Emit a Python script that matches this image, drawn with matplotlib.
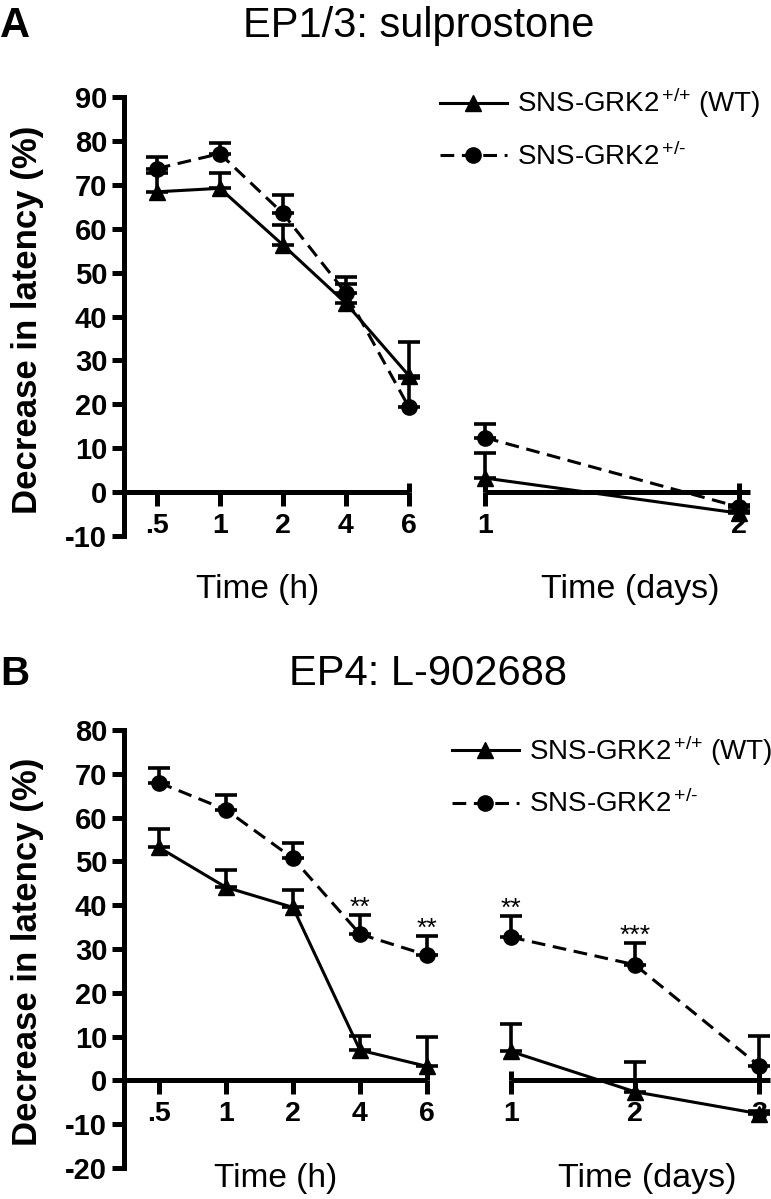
import matplotlib
matplotlib.use('Agg')
import matplotlib.pyplot as plt
from matplotlib.lines import Line2D
from matplotlib import rcParams

rcParams['font.family'] = 'Liberation Sans'
rcParams['mathtext.fontset'] = 'custom'
rcParams['mathtext.rm'] = 'Liberation Sans'
rcParams['mathtext.it'] = 'Liberation Sans'
rcParams['axes.unicode_minus'] = False

W, H = 771, 1199
DPI = 100

HOUR_LABELS = ['.5', '1', '2', '4', '6']

# panel A: EP1/3 sulprostone
A_DAY_LABELS = ['1', '2']
A_WT_HOURS = [68.4, 69.2, 56.3, 43.0, 26.5]
A_WT_HOURS_SEM = [4.3, 3.5, 4.5, 4.4, 7.7]
A_HET_HOURS = [73.7, 77.1, 63.5, 45.3, 19.3]
A_HET_HOURS_SEM = [2.7, 2.5, 4.2, 3.7, 6.8]
A_WT_DAYS = [3.2, -4.8]
A_WT_DAYS_SEM = [5.8, 0.5]
A_HET_DAYS = [12.4, -3.4]
A_HET_DAYS_SEM = [3.0, 0.5]

# panel B: EP4 L-902688
B_DAY_LABELS = ['1', '2', '3']
B_WT_HOURS = [53.2, 44.1, 39.5, 6.9, 3.2]
B_WT_HOURS_SEM = [4.1, 3.9, 3.9, 3.3, 6.8]
B_HET_HOURS = [68.0, 61.8, 50.7, 33.4, 28.6]
B_HET_HOURS_SEM = [3.4, 3.4, 3.6, 4.3, 4.4]
B_WT_DAYS = [6.6, -2.6, -7.6]
B_WT_DAYS_SEM = [6.2, 6.7, 0.5]
B_HET_DAYS = [32.7, 26.4, 3.4]
B_HET_DAYS_SEM = [4.8, 5.0, 6.8]
B_STARS_HOURS = ['', '', '', '**', '**']
B_STARS_DAYS = ['**', '***', '']

WT_LABEL = r'SNS-GRK2$^{\,\text{+/+}}$ (WT)'
HET_LABEL = r'SNS-GRK2$^{\,\text{+/-}}$'

AXW = 3.6   # axis line width
LW = 2.2    # data line width
DASH = (4.5, 2.5)


def px_axes(fig, left, right, top, bottom):
    return fig.add_axes([left / W, 1 - bottom / H, (right - left) / W, (bottom - top) / H])


def series(ax, x, y, sem, dashed, stars=None):
    marker = 'o' if dashed else '^'
    ms = 11 if dashed else 12
    cont = ax.errorbar(x, y, yerr=[[0] * len(sem), sem], color='black', marker=marker, ms=ms,
                       lw=LW, elinewidth=2.6, capsize=8, capthick=2.6, zorder=4)
    cont.lines[0].set_clip_on(False)
    if dashed:
        cont.lines[0].set_dashes(DASH)
    for c in cont.lines[1]:
        c.set_clip_on(False)
    for c in cont.lines[2]:
        c.set_clip_on(False)
    if stars:
        for xi, yi, si, s in zip(x, y, sem, stars):
            if s:
                ax.annotate(s, xy=(xi, yi + si), xytext=(0, 0), textcoords='offset points',
                            ha='center', va='baseline', fontsize=19)


def style_axes(ax, ylim, xpos, xlabels, xlim, first):
    ax.set_ylim(ylim)
    ax.set_xlim(xlim)
    ax.patch.set_visible(False)
    ax.spines['top'].set_visible(False)
    ax.spines['right'].set_visible(False)
    ax.spines['bottom'].set_position(('data', 0))
    ax.spines['bottom'].set_linewidth(AXW)
    ax.spines['bottom'].set_capstyle('butt')
    ax.xaxis.remove_overlapping_locs = False
    ax.set_xticks(xpos)
    ax.set_xticklabels(xlabels, fontsize=20.5, fontweight='bold')
    ax.tick_params(axis='x', which='major', direction='out', length=10, width=AXW, pad=5)
    ax.tick_params(axis='x', which='minor', direction='in', length=6.5, width=AXW)
    if first:
        ax.spines['left'].set_linewidth(AXW)
        ax.spines['bottom'].set_bounds(xlim[0], xpos[-1])
        ax.set_xticks([xpos[-1]], minor=True)
        ax.tick_params(axis='y', direction='out', length=9, width=AXW, pad=3, labelsize=21)
        for t in ax.get_yticklabels():
            t.set_fontweight('bold')
    else:
        ax.spines['left'].set_visible(False)
        ax.spines['bottom'].set_bounds(xpos[0], xlim[1])
        ax.set_xticks([xpos[0], xpos[-1]], minor=True)
        ax.tick_params(axis='y', left=False, labelleft=False)


def panel(fig, geom, ylim, yticks, wt_h, wt_h_sem, het_h, het_h_sem, day_labels,
          wt_d, wt_d_sem, het_d, het_d_sem, stars_h=None, stars_d=None):
    top, bottom, h_left, h_right, d_left, d_right, d_xmax = geom
    hours = list(range(len(HOUR_LABELS)))
    days = list(range(1, len(day_labels) + 1))

    ax_h = px_axes(fig, h_left, h_right, top, bottom)
    ax_h.set_yticks(yticks)
    style_axes(ax_h, ylim, hours, HOUR_LABELS, (-0.52, hours[-1]), True)
    series(ax_h, hours, wt_h, wt_h_sem, False)
    series(ax_h, hours, het_h, het_h_sem, True, stars_h)

    ax_d = px_axes(fig, d_left, d_right, top, bottom)
    style_axes(ax_d, ylim, days, day_labels, (1, d_xmax), False)
    series(ax_d, days, wt_d, wt_d_sem, False)
    series(ax_d, days, het_d, het_d_sem, True, stars_d)
    return ax_h, ax_d


def legend(fig, x, y):
    wt = Line2D([0], [0], color='black', lw=LW, marker='^', ms=12)
    het = Line2D([0], [0], color='black', lw=LW, marker='o', ms=11, dashes=DASH)
    fig.legend(handles=[wt, het], labels=[WT_LABEL, HET_LABEL], loc='upper left',
               bbox_to_anchor=(x / W, 1 - y / H), frameon=False, fontsize=20,
               handlelength=2.4, handletextpad=0.38, labelspacing=0.8,
               borderpad=0, borderaxespad=0, numpoints=1)


fig = plt.figure(figsize=(W / DPI, H / DPI), dpi=DPI)

# panel A
panel(fig, (97, 536, 124, 409, 485, 750, 2.043), (-10, 90), list(range(-10, 91, 10)),
      A_WT_HOURS, A_WT_HOURS_SEM, A_HET_HOURS, A_HET_HOURS_SEM, A_DAY_LABELS,
      A_WT_DAYS, A_WT_DAYS_SEM, A_HET_DAYS, A_HET_DAYS_SEM)
legend(fig, 440, 86)
fig.text(0 / W, 1 - 37 / H, 'A', fontsize=30, fontweight='bold', va='baseline', ha='left')
fig.text(419 / W, 1 - 37 / H, 'EP1/3: sulprostone', fontsize=30, va='baseline', ha='center')
fig.text(28 / W, 1 - 320 / H, 'Decrease in latency (%)', fontsize=25, fontweight='bold',
         rotation=90, va='center', ha='center')
fig.text(258 / W, 1 - 598 / H, 'Time (h)', fontsize=24, va='baseline', ha='center')
fig.text(630 / W, 1 - 598 / H, 'Time (days)', fontsize=24.5, va='baseline', ha='center')

# panel B
panel(fig, (730, 1168, 124, 427, 511, 770, 3.09), (-20, 80), list(range(-20, 81, 10)),
      B_WT_HOURS, B_WT_HOURS_SEM, B_HET_HOURS, B_HET_HOURS_SEM, B_DAY_LABELS,
      B_WT_DAYS, B_WT_DAYS_SEM, B_HET_DAYS, B_HET_DAYS_SEM, B_STARS_HOURS, B_STARS_DAYS)
legend(fig, 452, 733)
fig.text(0 / W, 1 - 685 / H, 'B', fontsize=29, fontweight='bold', va='baseline', ha='left')
fig.text(428 / W, 1 - 685 / H, 'EP4: L-902688', fontsize=30, va='baseline', ha='center')
fig.text(28 / W, 1 - 952 / H, 'Decrease in latency (%)', fontsize=25, fontweight='bold',
         rotation=90, va='center', ha='center')
fig.text(276 / W, 1 - 1187 / H, 'Time (h)', fontsize=24, va='baseline', ha='center')
fig.text(647 / W, 1 - 1187 / H, 'Time (days)', fontsize=24.5, va='baseline', ha='center')

fig.savefig('out.png', dpi=DPI)
